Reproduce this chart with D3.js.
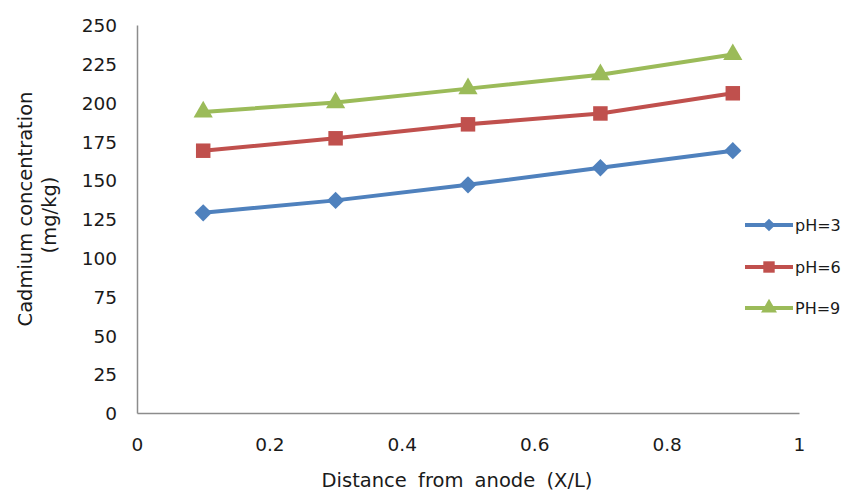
<!DOCTYPE html>
<html><head><meta charset="utf-8">
<script src="https://cdn.jsdelivr.net/npm/d3@7"></script>
<style>body{margin:0;background:#fff}</style>
</head><body>
<svg id="c" width="850" height="493"></svg>
<script>
const xValues = [0.1, 0.3, 0.5, 0.7, 0.9];
const ph3 = [129, 137, 147, 158, 169];
const ph6 = [169, 177, 186, 193, 206];
const ph9 = [194, 200, 209, 218, 231];
const seriesNames = ["pH=3", "pH=6", "PH=9"];
const xTicks = [0, 0.2, 0.4, 0.6, 0.8, 1];
const yTicks = [0, 25, 50, 75, 100, 125, 150, 175, 200, 225, 250];

const colors = ["#4F81BD", "#C0504D", "#9BBB59"];
const symbols = [d3.symbolSquare, d3.symbolSquare, d3.symbolTriangle];
const rotations = [45, 0, 0];
const markerSizes = [150, 210, 160];
const legendSizes = [80, 130, 110];
const series = [ph3, ph6, ph9].map((vals, i) => ({
  name: seriesNames[i], color: colors[i], symbol: symbols[i], rot: rotations[i],
  size: markerSizes[i], lsize: legendSizes[i],
  points: xValues.map((x, j) => ({x, y: vals[j]}))
}));

const svg = d3.select("#c");
const font = "'DejaVu Sans', Verdana, sans-serif";
const textColor = "#1a1a1a";
const pLeft = 137, pRight = 799, pTop = 25, pBottom = 413;
const x = d3.scaleLinear().domain([0, 1]).range([pLeft, pRight]);
const y = d3.scaleLinear().domain([0, 250]).range([pBottom, pTop]);

// axes
const xAxis = svg.append("g").attr("transform", `translate(0,${pBottom})`)
  .call(d3.axisBottom(x).tickValues(xTicks).tickSize(0).tickPadding(25).tickFormat(d => d3.format("~g")(d)));
const yAxis = svg.append("g").attr("transform", `translate(${pLeft},0)`)
  .call(d3.axisLeft(y).tickValues(yTicks).tickSize(0).tickPadding(20));
[xAxis, yAxis].forEach(a => {
  a.select(".domain").attr("stroke", "#8c8c8c").attr("stroke-width", 1.5);
  a.selectAll("text").attr("font-family", font).attr("font-size", 18.5).attr("fill", textColor);
});
yAxis.selectAll("text").attr("dy", "0.36em");

// lines
const line = d3.line().x(d => x(d.x)).y(d => y(d.y));
series.forEach(s => {
  svg.append("path").datum(s.points).attr("d", line)
    .attr("fill", "none").attr("stroke", s.color).attr("stroke-width", 4);
  svg.selectAll(null).data(s.points).enter().append("path")
    .attr("transform", d => `translate(${x(d.x)},${y(d.y)}) rotate(${s.rot})`)
    .attr("d", d3.symbol().type(s.symbol).size(s.size))
    .attr("fill", s.color);
});

// legend
const legY = [225, 267, 308];
series.forEach((s, i) => {
  const g = svg.append("g").attr("transform", `translate(745,${legY[i]})`);
  g.append("line").attr("x1", 0).attr("x2", 48).attr("stroke", s.color).attr("stroke-width", 4);
  g.append("path").attr("transform", `translate(24,0) rotate(${s.rot})`)
    .attr("d", d3.symbol().type(s.symbol).size(s.lsize)).attr("fill", s.color);
  g.append("text").attr("x", 50).attr("dy", "0.36em").attr("font-family", font).attr("font-size", 16)
    .attr("fill", textColor).text(s.name);
});

// axis titles
svg.append("text").attr("x", 457).attr("y", 487).attr("text-anchor", "middle")
  .attr("font-family", font).attr("font-size", 19.5).attr("word-spacing", 5).attr("fill", textColor)
  .text("Distance from anode (X/L)");
svg.append("text").attr("transform", "translate(32,209) rotate(-90)").attr("text-anchor", "middle")
  .attr("font-family", font).attr("font-size", 19.5).attr("fill", textColor).text("Cadmium concentration");
svg.append("text").attr("transform", "translate(56,215) rotate(-90)").attr("text-anchor", "middle")
  .attr("font-family", font).attr("font-size", 19.5).attr("fill", textColor).text("(mg/kg)");
</script>
</body></html>
